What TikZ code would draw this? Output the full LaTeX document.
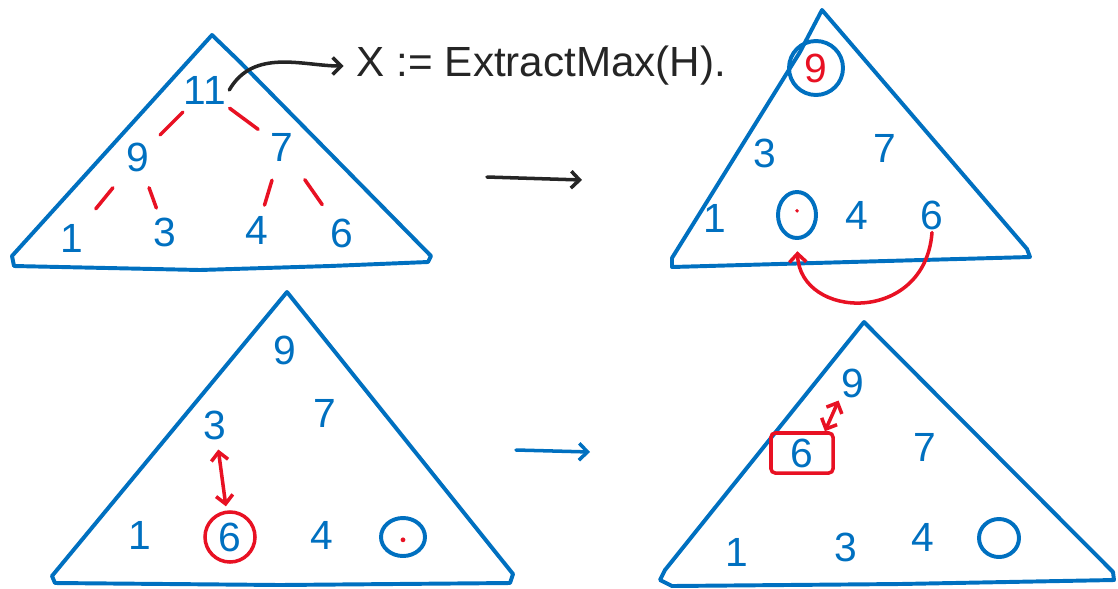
\documentclass[tikz,border=0pt]{standalone}
\usepackage{fontspec}
\setmainfont{Liberation Sans}
\usetikzlibrary{arrows.meta, positioning, shapes.geometric, calc}
\definecolor{penblue}{RGB}{0,112,192}
\definecolor{penred}{RGB}{232,17,35}
\definecolor{penblack}{RGB}{37,37,37}

\begin{document}
\begin{tikzpicture}[x=0.025cm, y=-0.025cm,
    outline/.style={penblue, line width=2.8pt, line join=round, line cap=round},
    key/.style={penblue, font=\fontsize{29}{31}\selectfont, inner sep=2pt},
    link/.style={penred, line width=2.5pt, line cap=round},
    barb/.style={-{Straight Barb[length=6pt, width=12pt]}},
    ink/.style={line width=2.5pt, line cap=round, barb}]
  \useasboundingbox (0,0) rectangle (1118,588);

  % heap before extraction
  \draw[outline] (212,35) -- (240,62) -- (431,256) -- (428,262) -- (330,266) -- (200,270) -- (14,266) -- (12,256) -- cycle;
  \node[key] (a11) at (205,90) {11};
  \node[key] (a9) at (138,157) {9};
  \node[key] (a7) at (282,147) {7};
  \node[key] (a1) at (72,238) {1};
  \node[key] (a3) at (165,232) {3};
  \node[key] (a4) at (257,230) {4};
  \node[key] (a6) at (342,233) {6};
  \draw[link] ($(a11)!.33!(a9)$) -- ($(a11)!.67!(a9)$);
  \draw[link] ($(a11)!.32!(a7)$) -- ($(a11)!.69!(a7)$);
  \draw[link] ($(a9)!.38!(a1)$) -- ($(a9)!.64!(a1)$);
  \draw[link] ($(a9)!.41!(a3)$) -- ($(a9)!.68!(a3)$);
  \draw[link] ($(a7)!.40!(a4)$) -- ($(a7)!.70!(a4)$);
  \draw[link] ($(a7)!.38!(a6)$) -- ($(a7)!.67!(a6)$);

  \node[penblack, font=\fontsize{30}{32}\selectfont, anchor=west] (xmax) at (352,66) {X := ExtractMax(H).};
  \draw[ink, penblack, shorten >=6pt] (a11.east) to[out=60, in=180] (xmax.west);

  % steps
  \coordinate (s1) at (487,177);
  \coordinate (e1) at (582,180);
  \draw[ink, penblack] (s1) -- (e1);
  \coordinate (s2) at (516,450);
  \coordinate (e2) at (590,452);
  \draw[ink, penblue] (s2) -- (e2);

  % root taken out, last leaf moves up
  \draw[outline] (822,10) -- (1027,249) -- (1030,257) -- (850,262) -- (672,267) -- (672,258) -- (800,52) -- cycle;
  \node[key, draw=penblue, line width=2.8pt, circle, minimum size=1.35cm, text=penred] (b9) at (816,68) {9};
  \node[key] (b3) at (765,153) {3};
  \node[key] (b7) at (885,148) {7};
  \node[key] (b1) at (715,218) {1};
  \node[draw=penblue, line width=2.8pt, ellipse, minimum width=0.95cm, minimum height=1.15cm] (bhole) at (797,215) {};
  \fill[penred] ([yshift=3pt]bhole.center) circle (1.4pt);
  \node[key] (b4) at (857,215) {4};
  \node[key] (b6) at (932,215) {6};
  \draw[link, barb, shorten >=8pt] (b6.south) .. controls (925,325) and (800,320) .. (bhole.south);

  % sift down
  \draw[outline] (287,292) -- (513,574) -- (510,583) -- (280,585) -- (55,583) -- (52,576) -- cycle;
  \node[key] (c9) at (285,350) {9};
  \node[key] (c3) at (215,425) {3};
  \node[key] (c7) at (325,413) {7};
  \node[key] (c1) at (140,535) {1};
  \node[key, draw=penred, line width=2.5pt, circle, minimum size=1.25cm] (c6) at (230,537) {6};
  \node[key] (c4) at (322,535) {4};
  \node[draw=penblue, line width=2.8pt, ellipse, minimum width=1.1cm, minimum height=0.95cm] (chole) at (403,537) {};
  \fill[penred] ([yshift=-2pt]chole.center) circle (1.7pt);
  \draw[link, {Straight Barb[length=6pt, width=12pt]}-{Straight Barb[length=6pt, width=12pt]}, shorten <=5pt, shorten >=3pt] (c3) -- (c6);

  \draw[outline] (864,322) -- (1113,572) -- (1114,580) -- (900,584) -- (672,586) -- (660,580) -- (665,570) -- cycle;
  \node[key] (d9) at (853,383) {9};
  \node[key, draw=penred, line width=2.5pt, rounded corners=3pt, minimum width=1.55cm, minimum height=1cm] (d6) at (802,453) {6};
  \node[key] (d7) at (925,447) {7};
  \node[key] (d1) at (737,552) {1};
  \node[key] (d3) at (846,547) {3};
  \node[key] (d4) at (923,537) {4};
  \node[draw=penblue, line width=2.8pt, ellipse, minimum width=1cm, minimum height=0.95cm] (dhole) at (999,538) {};
  \draw[link, {Straight Barb[length=6pt, width=12pt]}-{Straight Barb[length=6pt, width=12pt]}] ([xshift=-7pt]d6.north east) -- (d9.south west);
\end{tikzpicture}
\end{document}
